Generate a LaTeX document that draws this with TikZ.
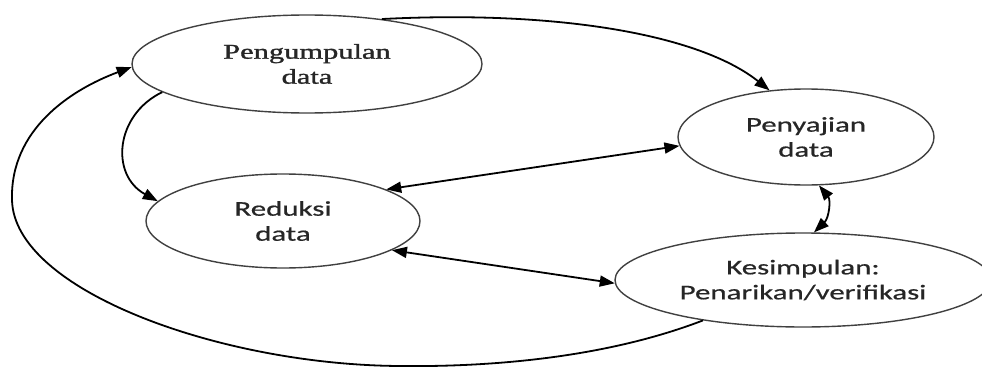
\documentclass[tikz,border=0pt]{standalone}
\usepackage{fontspec}
\usetikzlibrary{shapes.geometric,arrows.meta}
\setmainfont{Liberation Serif}[FakeBold=1.2]
\newfontfamily\calfont{Carlito}[FakeStretch=1.47,FakeBold=0.6]
\begin{document}
\begin{tikzpicture}[x=1pt,y=-1pt,
  proc/.style={ellipse, draw=black!75, line width=1.4pt, inner sep=0pt,
    align=center, text=black!85},
  sanstext/.style={font=\calfont\fontsize{21}{25}\selectfont},
  seriftext/.style={font=\rmfamily\fontsize{21}{25}\selectfont},
  conn/.style={line width=1.8pt, draw=black, -{Triangle[length=15pt,width=11pt]}},
  dconn/.style={line width=1.8pt, draw=black,
    {Triangle[length=15pt,width=11pt]}-{Triangle[length=15pt,width=11pt]}}]
\useasboundingbox (0,0) rectangle (982,369);
\fill[white] (0,0) rectangle (982,369);
\node[proc, seriftext, minimum width=350pt, minimum height=98pt] (p) at (307,64)
  {\scalebox{1.45}[1]{Pengumpulan}\\\scalebox{1.45}[1]{data}};
\node[proc, sanstext, minimum width=256pt, minimum height=96pt] (q) at (806,137) {Penyajian\\data};
\node[proc, sanstext, minimum width=274pt, minimum height=94pt] (r) at (283,221) {Reduksi\\data};
\node[proc, sanstext, minimum width=376pt, minimum height=94pt] (s) at (803,280) {Kesimpulan:\\Penarikan/verifikasi};
\coordinate (lb) at (400,366);
\coordinate (ll) at (12,200);
\draw[conn] (p.31) .. controls (560,10) and (700,35) .. (q.128);
\draw[conn] (p.191) .. controls (115,115) and (110,175) .. (r.171);
\draw[dconn] (r.17) -- (q.184);
\draw[dconn] (r.345) -- (s.181);
\draw[dconn] (q.285) .. controls (831,200) and (829,218) .. (s.77);
\draw[conn] (s.202) .. controls (600,360) and (480,367) .. (lb)
  .. controls (220,365) and (14,290) .. (ll)
  .. controls (10,130) and (70,90) .. (p.181);
\end{tikzpicture}
\end{document}
